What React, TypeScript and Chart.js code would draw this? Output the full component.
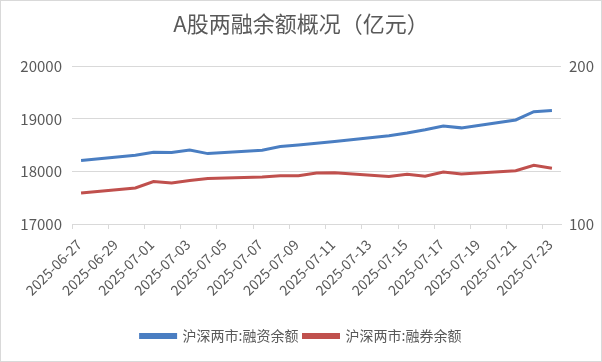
import { useEffect, useRef } from 'react';
import { Chart, registerables } from 'chart.js';

Chart.register(...registerables);

const chartTitle = 'A股两融余额概况（亿元）';
const seriesNames = ['沪深两市:融资余额', '沪深两市:融券余额'];

const dates = [
  '2025-06-27', '2025-06-30', '2025-07-01', '2025-07-02', '2025-07-03', '2025-07-04',
  '2025-07-07', '2025-07-08', '2025-07-09', '2025-07-10', '2025-07-11',
  '2025-07-14', '2025-07-15', '2025-07-16', '2025-07-17', '2025-07-18',
  '2025-07-21', '2025-07-22', '2025-07-23',
];

// 融资余额 (left axis)
const financing = [
  18211, 18310, 18365, 18360, 18410, 18340,
  18404, 18475, 18506, 18538, 18571,
  18679, 18731, 18794, 18865, 18830,
  18981, 19138, 19160,
];

// 融券余额 (right axis)
const lending = [
  119.7, 122.9, 126.9, 126.0, 127.6, 128.8,
  129.9, 130.6, 130.6, 132.3, 132.5,
  130.1, 131.6, 130.3, 133.0, 131.8,
  133.8, 137.2, 135.4,
];

const tickLabels = [
  '2025-06-27', '2025-06-29', '2025-07-01', '2025-07-03', '2025-07-05', '2025-07-07',
  '2025-07-09', '2025-07-11', '2025-07-13', '2025-07-15', '2025-07-17', '2025-07-19',
  '2025-07-21', '2025-07-23',
];

const leftTicks = [17000, 18000, 19000, 20000];
const rightTicks = [100, 200];

const DAY = 86400000;
const base = Date.parse(tickLabels[0] + 'T00:00:00Z');
const dayOf = (s: string) => (Date.parse(s + 'T00:00:00Z') - base) / DAY;

const FONT = "'Noto Sans CJK SC', 'Liberation Sans', sans-serif";
const TEXT = '#595959';
const GRID = '#d9d9d9';
const BLUE = '#4A7EC2';
const RED = '#C0504D';

export default function App() {
  const ref = useRef<HTMLCanvasElement>(null);

  useEffect(() => {
    document.body.style.margin = '0';
    const canvas = ref.current;
    if (!canvas) return;
    const chart = new Chart(canvas, {
      type: 'line',
      data: {
        datasets: [
          {
            label: seriesNames[0],
            data: dates.map((d, i) => ({ x: dayOf(d) + 0.5, y: financing[i] })),
            borderColor: BLUE,
            backgroundColor: BLUE,
            borderWidth: 3,
            pointRadius: 0,
            tension: 0,
            yAxisID: 'y',
          },
          {
            label: seriesNames[1],
            data: dates.map((d, i) => ({ x: dayOf(d) + 0.5, y: lending[i] })),
            borderColor: RED,
            backgroundColor: RED,
            borderWidth: 3,
            pointRadius: 0,
            tension: 0,
            yAxisID: 'y1',
          },
        ],
      },
      options: {
        animation: false,
        responsive: false,
        events: [],
        layout: { padding: { left: 0, right: 0, top: 0, bottom: 8 } },
        plugins: {
          title: {
            display: true,
            text: chartTitle,
            color: TEXT,
            font: { family: FONT, size: 22, weight: 'normal' },
            padding: { top: 9, bottom: 30 },
          },
          legend: {
            position: 'bottom',
            labels: {
              boxWidth: 35,
              boxHeight: 3,
              color: TEXT,
              font: { family: FONT, size: 14 },
              padding: 5,
            },
          },
          tooltip: { enabled: false },
        },
        scales: {
          x: {
            type: 'linear',
            min: dayOf(tickLabels[0]),
            max: dayOf(dates[dates.length - 1]) + 1,
            afterBuildTicks: (axis: any) => {
              axis.ticks = tickLabels.map((t) => ({ value: dayOf(t) }));
            },
            afterFit: (s: any) => {
              s.height = 100;
            },
            ticks: {
              autoSkip: false,
              maxRotation: 45,
              minRotation: 45,
              color: TEXT,
              font: { family: FONT, size: 14 },
              padding: 7,
              labelOffset: 7,
              callback: (_v: any, i: number) => tickLabels[i],
            },
            grid: { drawOnChartArea: false, drawTicks: true, tickLength: 5, color: GRID },
            border: { color: GRID },
          },
          y: {
            position: 'left',
            min: leftTicks[0],
            max: leftTicks[leftTicks.length - 1],
            afterBuildTicks: (axis: any) => {
              axis.ticks = leftTicks.map((v) => ({ value: v }));
            },
            afterFit: (s: any) => {
              s.width = 71;
            },
            ticks: {
              color: TEXT,
              font: { family: FONT, size: 15 },
              padding: 10,
              callback: (v: any) => String(v),
            },
            grid: { color: GRID, drawTicks: false },
            border: { display: false },
          },
          y1: {
            position: 'right',
            min: rightTicks[0],
            max: rightTicks[rightTicks.length - 1],
            afterBuildTicks: (axis: any) => {
              axis.ticks = rightTicks.map((v) => ({ value: v }));
            },
            afterFit: (s: any) => {
              s.width = 40;
            },
            ticks: {
              color: TEXT,
              font: { family: FONT, size: 15 },
              padding: 8,
              callback: (v: any) => String(v),
            },
            grid: { drawOnChartArea: false, drawTicks: false },
            border: { display: false },
          },
        },
      },
    } as any);
    return () => chart.destroy();
  }, []);

  return (
    <div style={{ width: 602, height: 362, boxSizing: 'border-box', border: `1px solid ${GRID}` }}>
      <canvas ref={ref} width={600} height={360} style={{ display: 'block' }} />
    </div>
  );
}
